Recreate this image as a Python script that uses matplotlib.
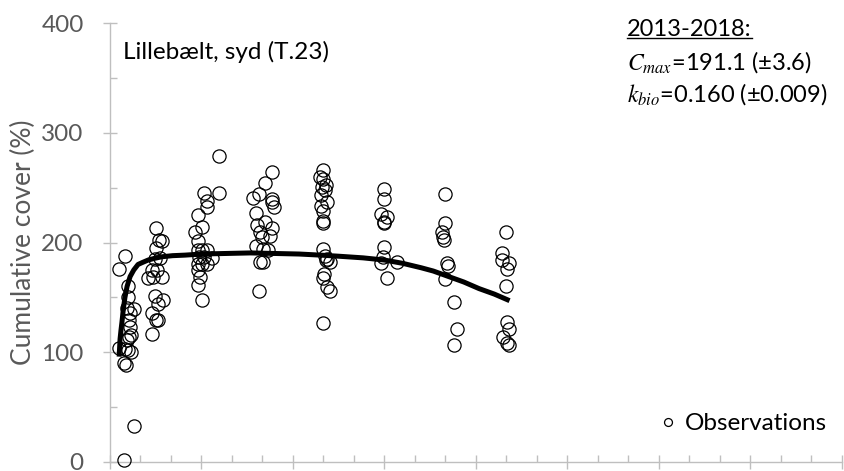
import matplotlib
matplotlib.use("Agg")
import matplotlib.pyplot as plt
from matplotlib.lines import Line2D
from matplotlib.ticker import MultipleLocator

plt.rcParams['font.family'] = ['Lato', 'DejaVu Sans']
plt.rcParams['mathtext.fontset'] = 'stix'

# observations, one pair of lists per sampling group
x1 = [0.30, 0.49, 0.46, 0.52, 0.79, 0.46, 0.59, 0.59, 0.79, 0.56, 0.66, 0.62, 0.66, 0.69, 0.62, 0.56, 0.30, 0.59, 0.69, 0.49]
y1 = [176, 188, 90, 88, 33, 2, 160, 150, 139, 140, 136, 129, 123, 116, 114, 111, 104, 102, 100, 103]

x2 = [1.51, 1.61, 1.70, 1.51, 1.48, 1.64, 1.38, 1.54, 1.25, 1.41, 1.70, 1.48, 1.74, 1.57, 1.38, 1.51, 1.57, 1.38]
y2 = [213, 202, 201, 195, 185, 186, 175, 175, 168, 169, 169, 151, 148, 144, 136, 129, 129, 117]

x3 = [3.57, 3.08, 3.57, 3.18, 3.18, 2.89, 2.79, 3.02, 2.89, 2.89, 3.02, 3.18, 2.92, 3.08, 3.34, 2.89, 3.02, 3.18, 2.89, 2.95, 2.89, 3.02]
y3 = [279, 245, 245, 238, 232, 225, 210, 214, 201, 193, 193, 193, 187, 187, 186, 180, 180, 180, 175, 169, 161, 148]

x4 = [5.31, 5.08, 4.69, 4.89, 5.31, 5.31, 5.38, 4.79, 4.82, 5.08, 5.31, 4.92, 4.98, 5.25, 4.79, 5.02, 5.18, 4.92, 5.02, 4.89]
y4 = [264, 254, 241, 244, 240, 237, 232, 227, 216, 219, 213, 210, 205, 206, 197, 194, 193, 182, 182, 156]

x5 = [6.98, 6.89, 6.98, 7.08, 6.95, 7.05, 6.92, 7.11, 6.92, 6.98, 6.98, 6.98, 6.98, 7.05, 7.11, 7.21, 7.08, 7.02, 6.98, 7.11, 7.21, 6.98]
y5 = [266, 260, 258, 252, 251, 248, 243, 237, 233, 229, 220, 218, 194, 188, 185, 182, 184, 171, 168, 159, 156, 127]

x6 = [8.98, 8.98, 8.89, 9.08, 8.98, 8.98, 8.98, 8.95, 8.89, 9.41, 9.08]
y6 = [249, 240, 226, 223, 219, 218, 196, 187, 181, 182, 168]

x7 = [10.98, 10.98, 10.89, 10.92, 10.95, 11.05, 11.08, 10.98, 11.28, 11.38, 11.28]
y7 = [244, 218, 210, 205, 202, 181, 179, 167, 146, 121, 107]

x8 = [12.98, 12.85, 12.85, 13.08, 13.02, 12.98, 13.02, 13.08, 12.89, 13.02, 13.08]
y8 = [210, 190, 184, 181, 176, 160, 128, 121, 114, 108, 107]

# fitted model line
fit_x = [0.30, 0.33, 0.36, 0.39, 0.44, 0.49, 0.56, 0.66, 0.78, 0.92, 1.08, 1.25, 1.45, 1.70, 2.05, 2.46, 3.0,
         3.8, 4.6, 5.4, 6.2, 6.9, 7.5, 8.3, 9.0, 9.6, 10.2, 10.6, 11.0, 11.6, 12.1, 12.6, 13.1]
fit_y = [96, 112, 120, 127, 140, 150, 160, 169, 175, 180, 182, 184, 185.5, 187, 188, 188.5, 189.5,
         190, 190.5, 190, 189.5, 188.5, 187.5, 186, 184, 181, 177, 174, 170, 164, 158, 153, 147]

obs_x = x1 + x2 + x3 + x4 + x5 + x6 + x7 + x8
obs_y = y1 + y2 + y3 + y4 + y5 + y6 + y7 + y8

fig = plt.figure(figsize=(8.45, 4.71), dpi=100)
ax = fig.add_axes([110 / 845, 9 / 471, 732 / 845, 439 / 471])

ax.plot(obs_x, obs_y, linestyle='none', marker='o', markersize=9.5, markerfacecolor='none',
        markeredgecolor='black', markeredgewidth=0.9, clip_on=False, label='Observations', zorder=3)
ax.plot(fit_x, fit_y, color='black', linewidth=3.6, solid_capstyle='butt', zorder=4)

ax.set_xlim(0, 24)
ax.set_ylim(0, 400)
ax.xaxis.set_major_locator(MultipleLocator(3))
ax.xaxis.set_minor_locator(MultipleLocator(1))
ax.yaxis.set_major_locator(MultipleLocator(100))
ax.yaxis.set_minor_locator(MultipleLocator(50))

grey = '#bfbfbf'
for side in ['top', 'right']:
    ax.spines[side].set_visible(False)
for side in ['left', 'bottom']:
    ax.spines[side].set_color(grey)
    ax.spines[side].set_linewidth(1.0)

ax.tick_params(axis='both', which='major', direction='inout', length=10, width=1.0, color=grey)
ax.tick_params(axis='both', which='minor', direction='in', length=5, width=1.0, color=grey)
ax.tick_params(axis='x', labelbottom=False)
ax.tick_params(axis='y', labelsize=17.5, labelcolor='#595959', pad=14)

ax.set_ylabel('Cumulative cover (%)', fontsize=19, color='#595959', labelpad=4)

ax.text(0.43, 374, 'Lillebælt, syd (T.23)', fontsize=17.5, va='center', ha='left')

fs = 17
head = fig.text(627 / 845, 1 - 29 / 471, '2013-2018:', fontsize=fs, va='center', ha='left')
fig.text(627 / 845, 1 - 62 / 471, r'$C_{max}$=191.1 (±3.6)', fontsize=fs, va='center', ha='left')
fig.text(627 / 845, 1 - 94 / 471, r'$k_{bio}$=0.160 (±0.009)', fontsize=fs, va='center', ha='left')

ax.legend(loc='lower right', bbox_to_anchor=(1.0, 0.03), frameon=False, fontsize=17.5,
          markerscale=0.6, handlelength=0.6, handletextpad=0.4, borderaxespad=0.2)

# underline the period heading
fig.canvas.draw()
bb = head.get_window_extent().transformed(fig.transFigure.inverted())
fig.add_artist(Line2D([bb.x0, bb.x1], [bb.y0 + 0.004, bb.y0 + 0.004], color='black',
                      linewidth=1.0, transform=fig.transFigure))

fig.savefig('out.png', dpi=100)
